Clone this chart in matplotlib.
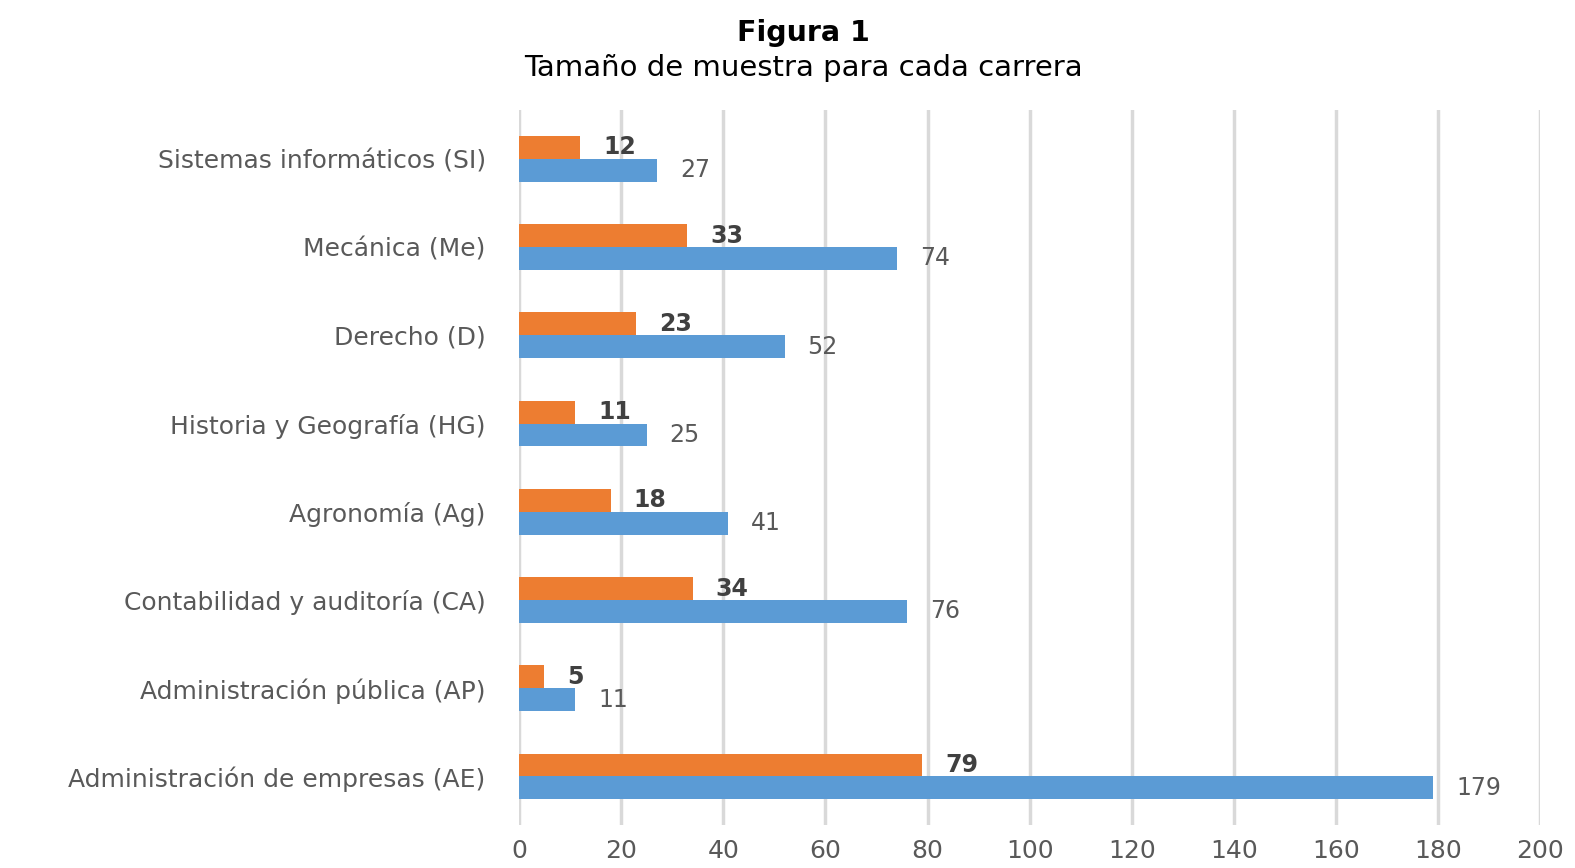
import numpy as np
import matplotlib
matplotlib.use("Agg")
import matplotlib.pyplot as plt

# datos: tamaño de muestra por carrera (de abajo hacia arriba)
carreras = ["Administración de empresas (AE)", "Administración pública (AP)",
            "Contabilidad y auditoría (CA)", "Agronomía (Ag)",
            "Historia y Geografía (HG)", "Derecho (D)", "Mecánica (Me)",
            "Sistemas informáticos (SI)"]
muestra = [79, 5, 34, 18, 11, 23, 33, 12]      # naranja
poblacion = [179, 11, 76, 41, 25, 52, 74, 27]   # azul
xticks = [0, 20, 40, 60, 80, 100, 120, 140, 160, 180, 200]

naranja = "#ED7D31"
azul = "#5B9BD5"
gris = "#595959"

fig = plt.figure(figsize=(15.75, 8.68), dpi=100)
ax = fig.add_axes([0.3295, 0.0495, 0.6485, 0.8235])

y = np.arange(len(carreras))
h = 0.26
ax.barh(y + h / 2, muestra, height=h, color=naranja, zorder=3)
ax.barh(y - h / 2, poblacion, height=h, color=azul, zorder=3)

for yi, v in zip(y, muestra):
    ax.text(v + 4.5, yi + h / 2, str(v), va="center", ha="left",
            fontsize=17, fontweight="bold", color="#404040", zorder=4)
for yi, v in zip(y, poblacion):
    ax.text(v + 4.5, yi - h / 2, str(v), va="center", ha="left",
            fontsize=17, color=gris, zorder=4)

ax.set_xlim(0, 200)
ax.set_ylim(-0.55, 7.55)
ax.set_xticks(xticks)
ax.set_yticks(y)
ax.set_yticklabels(carreras, fontsize=18)
ax.tick_params(axis="both", length=0, labelsize=18, labelcolor=gris)
ax.tick_params(axis="x", pad=10)
ax.tick_params(axis="y", pad=24)
ax.grid(axis="x", color="#D9D9D9", linewidth=2.5, zorder=0)
for s in ax.spines.values():
    s.set_visible(False)

fig.text(0.51, 0.962, "Figura 1", ha="center", va="center",
         fontsize=20.5, fontweight="bold", color="black")
fig.text(0.51, 0.922, "Tamaño de muestra para cada carrera", ha="center",
         va="center", fontsize=21, color="black")

fig.savefig("out.png", dpi=100)
